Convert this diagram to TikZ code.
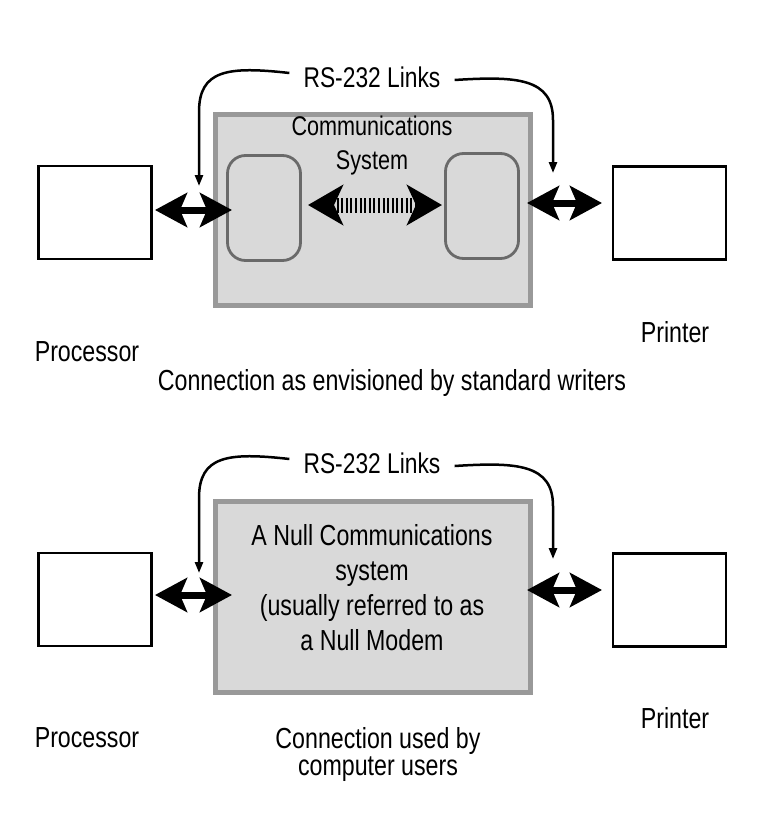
\documentclass[tikz,border=0pt]{standalone}
\usepackage{fontspec}
\setmainfont{Liberation Sans}[FakeStretch=0.8]
\usetikzlibrary{arrows.meta}
\definecolor{sysfill}{HTML}{D9D9D9}
\definecolor{sysborder}{HTML}{999999}
\definecolor{modborder}{HTML}{6A6A6A}
\tikzset{
  txt/.style={font=\fontsize{29}{35}\selectfont, align=center, inner sep=0pt},
  devbox/.style={draw=black, line width=2.5pt, fill=white, minimum width=113pt, minimum height=93pt, inner sep=0pt},
  sysbox/.style={draw=sysborder, fill=sysfill, line width=5pt, minimum width=315pt, minimum height=191pt, inner sep=0pt},
  modbox/.style={draw=modborder, fill=sysfill, line width=2.8pt, rounded corners=18pt, minimum width=73pt, minimum height=105pt, inner sep=0pt},
  dblarrow/.style={line width=7pt, {Stealth[length=32pt,width=34pt,inset=7pt]}-{Stealth[length=32pt,width=34pt,inset=7pt]}},
  hatcharrow/.style={line width=15pt, dash pattern=on 2pt off 2.6pt, {Stealth[length=35pt,width=40pt,inset=9pt]}-{Stealth[length=35pt,width=40pt,inset=9pt]}},
  link/.style={line width=2.5pt, -{Triangle[length=11pt,width=8pt]}},
  linklabel/.style={txt, inner xsep=14pt, font=\fontsize{28.5}{30}\selectfont}
}
\begin{document}
\begin{tikzpicture}[x=1pt,y=-1pt]
\useasboundingbox (0,0) rectangle (768,814);
\fill[white] (0,0) rectangle (768,814);

% ---------------- top diagram ----------------
\node[sysbox] (sys1) at (373,210) {};
\node[modbox] (mL) at (264,208) {};
\node[modbox] (mR) at (482,206) {};
\node[devbox] (proc1) at (95,212.5) {};
\node[devbox] (prn1) at (669.5,213) {};
\node[txt, font=\fontsize{27}{34}\selectfont] (cs) at (372,146) {Communications\\System};
\node[linklabel] (lk1) at (372,77) {RS-232 Links};

\coordinate (a1) at (155,210); \coordinate (b1) at (232,210);
\coordinate (c1) at (308,205); \coordinate (d1) at (442,205);
\coordinate (e1) at (527,203); \coordinate (f1) at (602,203);
\draw[dblarrow] (a1) -- (b1);
\draw[hatcharrow] (c1) -- (d1);
\draw[dblarrow] (e1) -- (f1);

\coordinate (t1) at (199,186);
\coordinate (t2) at (553,173);
\draw[link] ([yshift=4pt]lk1.west) .. controls +(-62,-7) and +(0,-42) .. (t1 |- 0,112) -- (t1);
\draw[link] ([yshift=-3pt]lk1.east) .. controls +(62,-4) and +(0,-42) .. (t2 |- 0,120) -- (t2);

\node[txt] (pl1) at (87,352) {Processor};
\node[txt] (pr1) at (675,332) {Printer};
\node[txt] (cap1) at (392,383) {Connection as envisioned by standard writers};

% ---------------- bottom diagram ----------------
\node[sysbox] (sys2) at (373,596.5) {};
\node[txt] (nm) at (372,588) {A Null Communications\\system\\(usually referred to as\\a Null Modem};
\node[devbox] (proc2) at (95,599.5) {};
\node[devbox] (prn2) at (669.5,600) {};
\node[linklabel] (lk2) at (372,463) {RS-232 Links};

\coordinate (a2) at (155,595); \coordinate (b2) at (232,595);
\coordinate (e2) at (527,590); \coordinate (f2) at (602,590);
\draw[dblarrow] (a2) -- (b2);
\draw[dblarrow] (e2) -- (f2);

\coordinate (t3) at (199,573);
\coordinate (t4) at (553,559);
\draw[link] ([yshift=4pt]lk2.west) .. controls +(-62,-7) and +(0,-42) .. (t3 |- 0,498) -- (t3);
\draw[link] ([yshift=-3pt]lk2.east) .. controls +(62,-4) and +(0,-42) .. (t4 |- 0,506) -- (t4);

\node[txt] (pl2) at (87,738) {Processor};
\node[txt] (pr2) at (675,718) {Printer};
\node[txt, font=\fontsize{29}{27}\selectfont] (cap2) at (378,754) {Connection used by\\computer users};
\end{tikzpicture}
\end{document}
